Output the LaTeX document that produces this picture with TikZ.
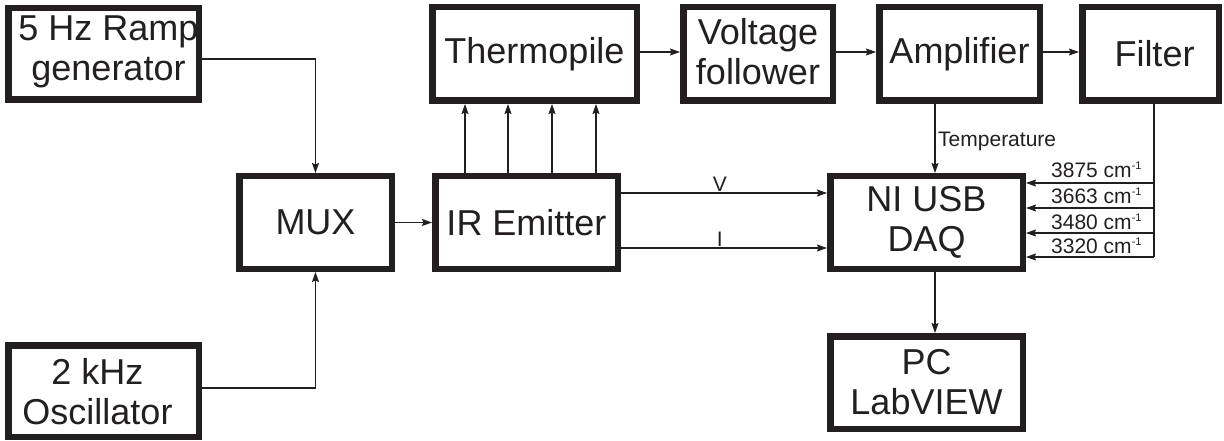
\documentclass[tikz,border=0pt]{standalone}
\usepackage{fontspec}
\setmainfont{Liberation Sans}
\usetikzlibrary{arrows.meta,calc}
\definecolor{ink}{RGB}{35,31,32}
\newcommand{\supone}{\raisebox{8pt}{\fontsize{11}{11}\selectfont -1}}
\begin{document}
\begin{tikzpicture}[x=1pt,y=-1pt,
  blk/.style={draw=ink,line width=6.5pt,inner sep=0pt,fill=white},
  big/.style={font=\fontsize{36}{40}\selectfont,text=ink,align=center,inner sep=0pt},
  sml/.style={font=\fontsize{21}{24}\selectfont,text=ink,inner sep=0pt},
  conn/.style={draw=ink,line width=1.3pt,-{Stealth[length=10pt,width=7pt,inset=1.5pt]}},
  plain/.style={draw=ink,line width=1.3pt}]
\useasboundingbox (0,0) rectangle (1224,441);
% boxes (outer sizes minus line width)
\node[blk,minimum width=190.5pt,minimum height=91.5pt] (ramp) at (103.5,54) {};
\node[blk,minimum width=190.5pt,minimum height=91.5pt] (osc) at (103.5,391) {};
\node[blk,minimum width=152.5pt,minimum height=92.5pt] (mux) at (315.5,222.5) {};
\node[blk,minimum width=182.5pt,minimum height=92.5pt] (ir) at (526.5,222.5) {};
\node[blk,minimum width=204.5pt,minimum height=93.5pt] (thermo) at (534.5,54) {};
\node[blk,minimum width=149.5pt,minimum height=93.5pt] (vf) at (758,54) {};
\node[blk,minimum width=160.5pt,minimum height=93.5pt] (amp) at (959.5,54) {};
\node[blk,minimum width=136.5pt,minimum height=93.5pt] (filter) at (1150.5,54) {};
\node[blk,minimum width=192.5pt,minimum height=92.5pt] (daq) at (926.5,222.5) {};
\node[blk,minimum width=192.5pt,minimum height=92.5pt] (pc) at (926.5,382.5) {};
% texts
\node[big] (tramp) at ([xshift=5pt,yshift=2pt]ramp.center) {5 Hz Ramp\\generator};
\node[big] (tosc) at ([xshift=-6pt,yshift=-1pt]osc.center) {2 kHz\\Oscillator};
\node[big] (tmux) at (mux.center) {MUX};
\node[big] (tir) at (ir.center) {IR Emitter};
\node[big] (tthermo) at (thermo.center) {Thermopile};
\node[big] (tvf) at ([yshift=2pt]vf.center) {Voltage\\follower};
\node[big] (tamp) at (amp.center) {Amplifier};
\node[big] (tfilter) at ([xshift=4pt]filter.center) {Filter};
\node[big] (tdaq) at (daq.center) {NI USB\\DAQ};
\node[big] (tpc) at (pc.center) {PC\\LabVIEW};
% connectors
\draw[conn] ([yshift=-5pt]ramp.east) -| (mux.north);
\draw[conn] ([yshift=3pt]osc.east) -| (mux.south);
\draw[conn] (mux.east) -- (ir.west);
\foreach \xx in {465,508,552,596}{
  \draw[conn] (\xx,0 |- ir.north) -- (\xx,0 |- thermo.south);
}
\draw[conn] ([yshift=2pt]thermo.east) -- ([yshift=2pt]vf.west);
\draw[conn] ([yshift=2pt]vf.east) -- ([yshift=2pt]amp.west);
\draw[conn] ([yshift=2pt]amp.east) -- ([yshift=2pt]filter.west);
\draw[conn] (ir.east |- 0,193) -- node[sml,pos=0.48,above=1pt] (lv) {V} (daq.west |- 0,193);
\draw[conn] (ir.east |- 0,248) -- node[sml,pos=0.48,above=1pt] (li) {I} (daq.west |- 0,248);
\draw[conn] (935,0 |- amp.south) -- (935,0 |- daq.north);
\node[sml,anchor=base west] (ltemp) at (938,147) {Temperature};
\draw[conn] (935,0 |- daq.south) -- (935,0 |- pc.north);
% filter outputs
\coordinate (fb) at (1154,257);
\draw[plain] (1154,0 |- filter.south) -- (fb);
\foreach \yy/\lab/\by in {183/3875/178,208/3663/204,233/3480/229,257/3320/253}{
  \coordinate (f\lab) at (1154,\yy);
  \draw[conn] (f\lab) -- (daq.east |- f\lab);
  \node[sml,anchor=base west] at (1051,\by) {\lab{} cm\supone};
}
\end{tikzpicture}
\end{document}
